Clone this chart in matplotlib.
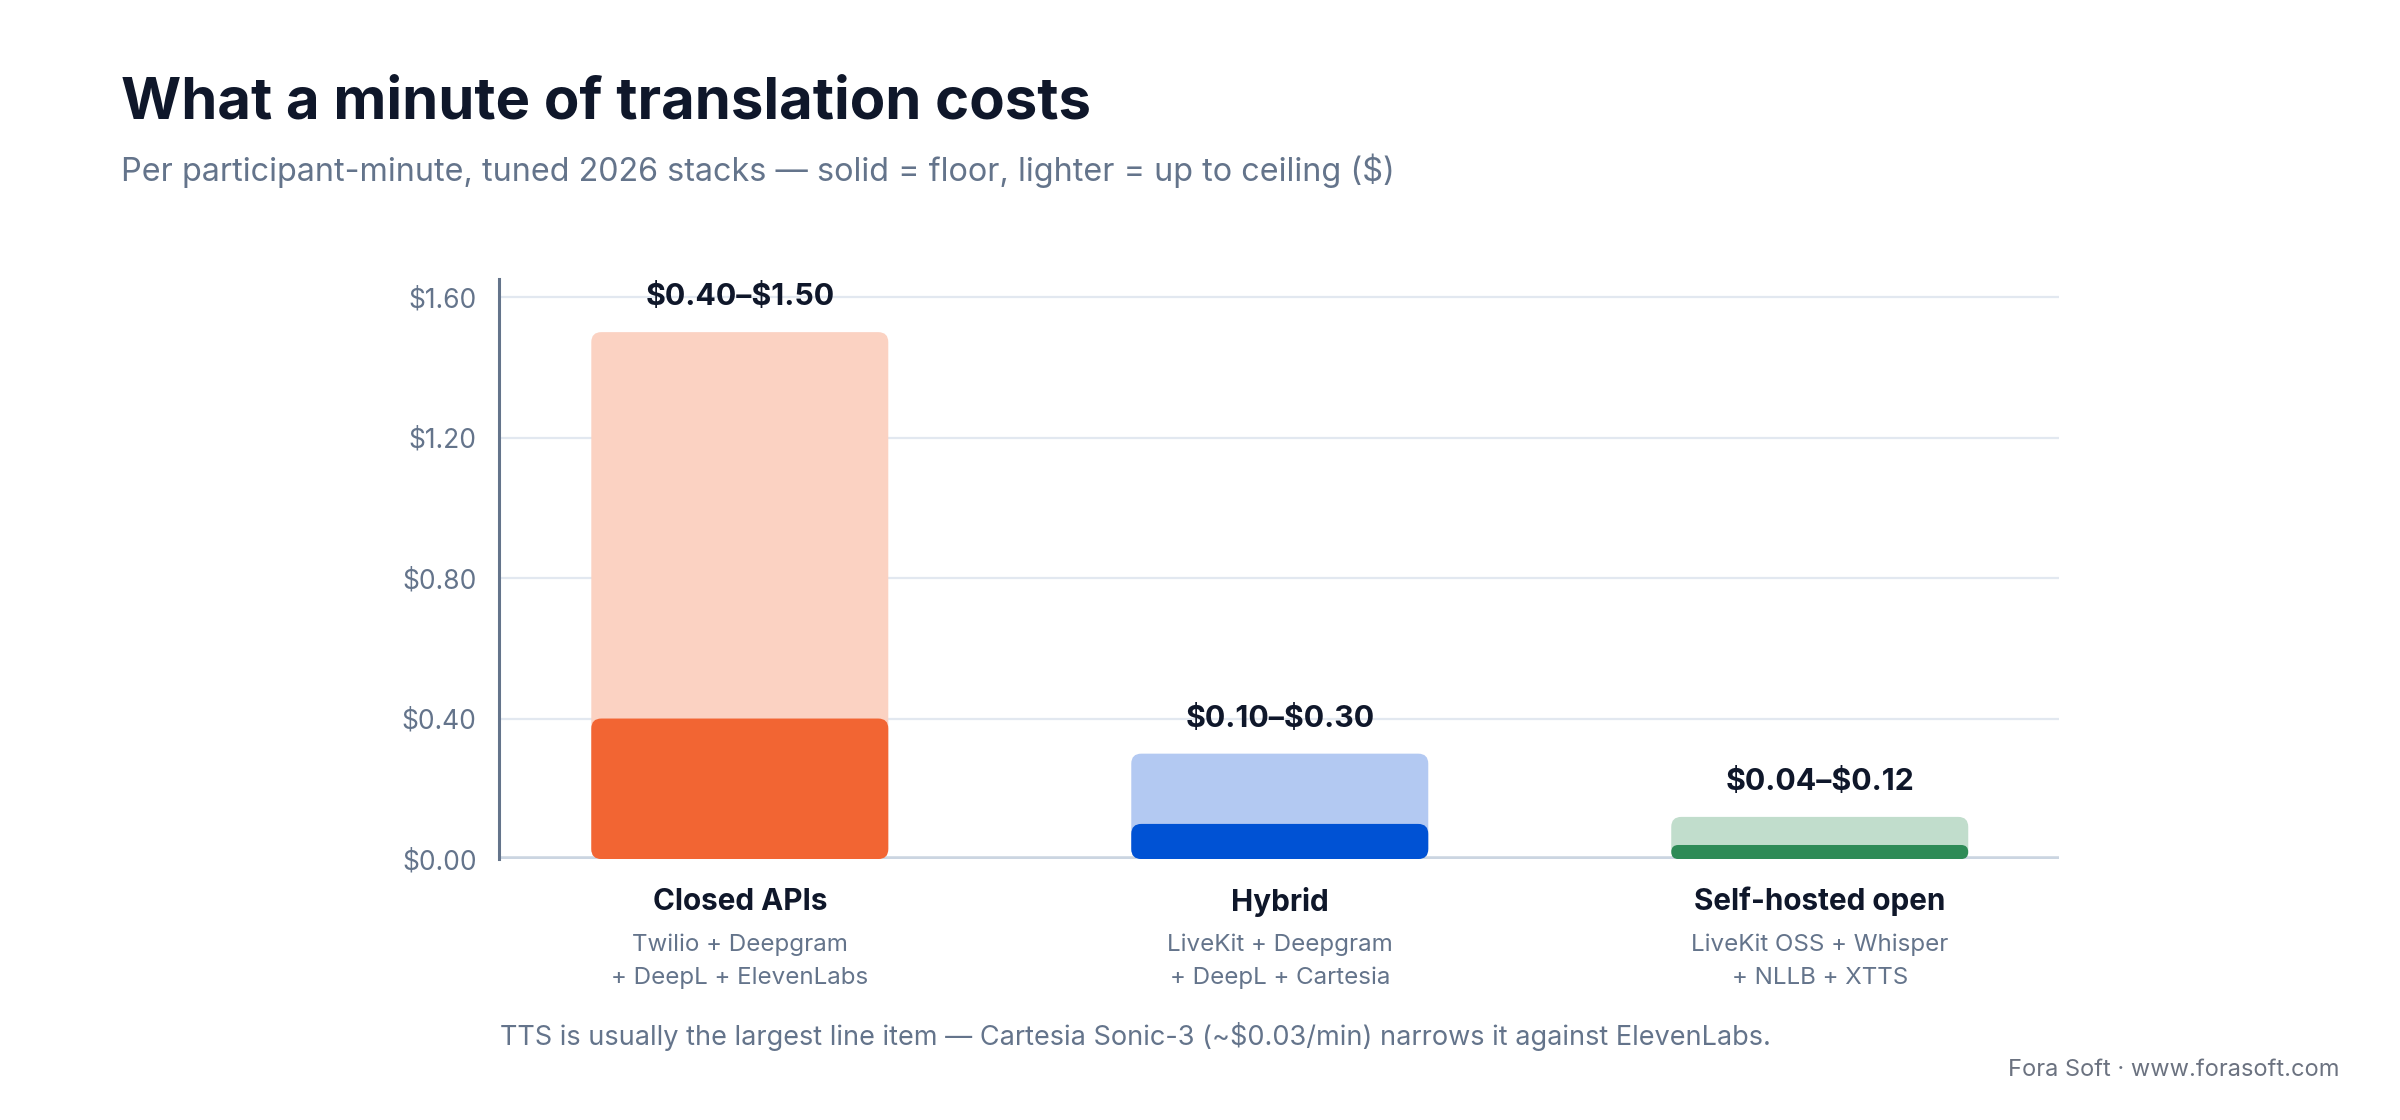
import matplotlib
matplotlib.use("Agg")
import matplotlib.pyplot as plt
from matplotlib.patches import FancyBboxPatch

plt.rcParams['font.family'] = ['Inter', 'DejaVu Sans']

# --- data ---
categories = ["Closed APIs", "Hybrid", "Self-hosted open"]
stack_line1 = ["Twilio + Deepgram", "LiveKit + Deepgram", "LiveKit OSS + Whisper"]
stack_line2 = ["+ DeepL + ElevenLabs", "+ DeepL + Cartesia", "+ NLLB + XTTS"]
floor = [0.40, 0.10, 0.04]
ceiling = [1.50, 0.30, 0.12]
range_labels = [r"\$0.40–\$1.50", r"\$0.10–\$0.30", r"\$0.04–\$0.12"]
yticks = [0.0, 0.4, 0.8, 1.2, 1.6]

solid_colors = ["#f26533", "#0052d4", "#2e8b57"]
light_colors = ["#fbd2c2", "#b3c9f2", "#c1ddcc"]

INK = "#0f172a"
MUTED = "#64748b"
GRID = "#e2e8f0"

fig = plt.figure(figsize=(12, 5.6), dpi=200)
ax = fig.add_axes([0.2079, 0.233, 0.65, 0.5175])

x = list(range(len(categories)))
ax.set_xlim(-0.446, 2.443)
ax.set_ylim(0, 1.65)

light = ax.bar(x, ceiling, width=0.55, color=light_colors, zorder=2)
solid = ax.bar(x, floor, width=0.55, color=solid_colors, zorder=3)


def round_bars(bars, radius_px=10):
    # swap the square bars for rounded ones in the same place
    fig.canvas.draw()
    bbox = ax.get_window_extent()
    x0, x1 = ax.get_xlim()
    y0, y1 = ax.get_ylim()
    ux = (x1 - x0) / bbox.width
    uy = (y1 - y0) / bbox.height
    aspect = uy / ux
    for b in bars:
        bx, by = b.get_x(), b.get_y()
        w, h = b.get_width(), b.get_height()
        r = min(radius_px * ux, w / 2, h / aspect / 2)
        p = FancyBboxPatch((bx, by), w, h,
                           boxstyle=f"round,pad=0,rounding_size={r}",
                           mutation_aspect=aspect,
                           facecolor=b.get_facecolor(), edgecolor="none",
                           zorder=b.get_zorder())
        b.set_visible(False)
        ax.add_patch(p)


round_bars(light)
round_bars(solid)

for xi, top, lab in zip(x, ceiling, range_labels):
    ax.annotate(lab, (xi, top), xytext=(0, 12.5), textcoords="offset points",
                ha="center", va="center", fontsize=10.9, fontweight="bold",
                color=INK)

# axes styling
for s in ["top", "right", "bottom"]:
    ax.spines[s].set_visible(False)
ax.spines["left"].set_color(MUTED)
ax.spines["left"].set_linewidth(1.1)
ax.set_yticks(yticks)
ax.set_yticklabels([f"\\${v:.2f}" for v in yticks])
ax.tick_params(axis="y", length=0, pad=8, labelsize=9.5, labelcolor=MUTED)
ax.set_xticks([])
ax.yaxis.grid(True, color=GRID, linewidth=0.8, zorder=0)
ax.set_axisbelow(True)
ax.axhline(0, color="#cbd5e1", linewidth=2.0, zorder=1)

# category labels under the bars
for xi, cat, l1, l2 in zip(x, categories, stack_line1, stack_line2):
    ax.annotate(cat, (xi, 0), xytext=(0, -15.3), textcoords="offset points",
                ha="center", va="center", fontsize=10.7, fontweight="bold",
                color=INK, annotation_clip=False)
    ax.annotate(l1, (xi, 0), xytext=(0, -30.8), textcoords="offset points",
                ha="center", va="center", fontsize=8.7, color=MUTED,
                annotation_clip=False)
    ax.annotate(l2, (xi, 0), xytext=(0, -42.8), textcoords="offset points",
                ha="center", va="center", fontsize=8.7, color=MUTED,
                annotation_clip=False)

fig.text(0.0504, 0.8946, "What a minute of translation costs", fontsize=20.9,
         fontweight="bold", color=INK, va="baseline")
fig.text(0.0504, 0.838,
         "Per participant-minute, tuned 2026 stacks — solid = floor, lighter = up to ceiling (\\$)",
         fontsize=11.65, color=MUTED, va="baseline")
fig.text(0.2083, 0.067,
         "TTS is usually the largest line item — Cartesia Sonic-3 (~\\$0.03/min) narrows it against ElevenLabs.",
         fontsize=9.75, color=MUTED, va="baseline")
fig.text(0.975, 0.039, "Fora Soft · www.forasoft.com", fontsize=8.5,
         color="#6b7280", ha="right", va="baseline")

fig.savefig("out.png", dpi=200, facecolor="white")
